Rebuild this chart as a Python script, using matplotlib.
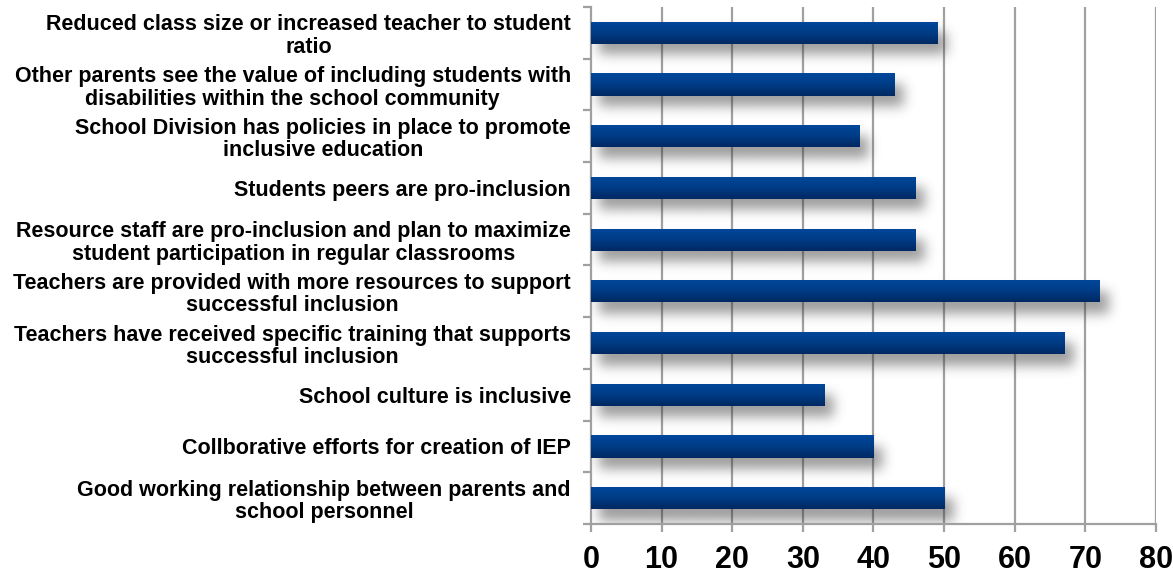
import numpy as np
import matplotlib
matplotlib.use("Agg")
import matplotlib.pyplot as plt
from matplotlib.colors import LinearSegmentedColormap

categories = [
    "Good working relationship between parents and\nschool personnel",
    "Collborative efforts for creation of IEP",
    "School culture is inclusive",
    "Teachers have received specific training that supports\nsuccessful inclusion",
    "Teachers are provided with more resources to support\nsuccessful inclusion",
    "Resource staff are pro-inclusion and plan to maximize\nstudent participation in regular classrooms",
    "Students peers are pro-inclusion",
    "School Division has policies in place to promote\ninclusive education",
    "Other parents see the value of including students with\ndisabilities within the school community",
    "Reduced class size or increased teacher to student\nratio",
]
values = [50, 40, 33, 67, 72, 46, 46, 38, 43, 49]
x_ticks = [0, 10, 20, 30, 40, 50, 60, 70, 80]

plt.rcParams["font.family"] = ["Liberation Sans", "DejaVu Sans"]

fig = plt.figure(figsize=(11.73, 5.73), dpi=100)
ax = fig.add_axes([0.5038, 0.0855, 0.4817, 0.9023])

n = len(categories)
ypos = np.arange(n)
bar_h = 0.43
grid_c = "#a0a0a0"
xmax = 80

# vertical gridlines
for t in x_ticks[1:]:
    ax.axvline(t, color=grid_c, lw=1.6, zorder=0)


def gaussian_blur(img, sigma):
    r = int(3 * sigma)
    k = np.exp(-0.5 * (np.arange(-r, r + 1) / sigma) ** 2)
    k /= k.sum()
    out = np.apply_along_axis(lambda m: np.convolve(m, k, mode="same"), 0, img)
    out = np.apply_along_axis(lambda m: np.convolve(m, k, mode="same"), 1, out)
    return out


# soft drop shadow beneath each bar, built as one blurred raster over the axes
W, H = 565, 517
mask = np.zeros((H, W))
for y, v in zip(ypos, values):
    x0 = int(round(1.2 / xmax * W))
    x1 = int(round((v + 1.2) / xmax * W))
    top = (n - 0.5 - (y + bar_h / 2 - 0.22)) / n * H
    bot = (n - 0.5 - (y - bar_h / 2 - 0.22)) / n * H
    mask[int(round(top)):int(round(bot)), x0:x1] = 1.0
shadow = gaussian_blur(mask, 6.0)
rgba = np.zeros((H, W, 4))
rgba[..., :3] = 0.2
rgba[..., 3] = np.clip(shadow * 0.48, 0, 1)
ax.imshow(rgba, extent=(0, xmax, -0.5, n - 0.5), aspect="auto",
          interpolation="bilinear", zorder=1)

# bars with a vertical blue gradient
grad_cmap = LinearSegmentedColormap.from_list("bar", ["#00489c", "#003c86", "#002963"])
grad = np.linspace(0, 1, 64).reshape(-1, 1)
for y, v in zip(ypos, values):
    bar = ax.barh(y, v, height=bar_h, color="#003c86", zorder=2)[0]
    im = ax.imshow(grad, cmap=grad_cmap, aspect="auto",
                   extent=(0, v, y - bar_h / 2, y + bar_h / 2),
                   zorder=3, interpolation="bilinear")
    im.set_clip_path(bar)

ax.set_xlim(0, xmax)
ax.set_ylim(-0.5, n - 0.5)

ax.set_xticks(x_ticks)
ax.set_xticklabels([str(t) for t in x_ticks], fontsize=22, fontweight="bold")
ax.tick_params(axis="x", direction="out", length=6, width=1.6, color=grid_c, pad=9)

ax.set_yticks(ypos)
ax.set_yticklabels(categories, fontsize=15.5, fontweight="bold",
                   multialignment="center", linespacing=1.1)
ax.tick_params(axis="y", which="major", length=0, pad=14.5)
ax.set_yticks(np.arange(-0.5, n, 1.0), minor=True)
ax.tick_params(axis="y", which="minor", direction="out", length=6, width=1.6, color=grid_c)

for side in ["top", "right"]:
    ax.spines[side].set_visible(False)
for side in ["left", "bottom"]:
    ax.spines[side].set_color(grid_c)
    ax.spines[side].set_linewidth(1.6)

fig.savefig("out.png", dpi=100)
